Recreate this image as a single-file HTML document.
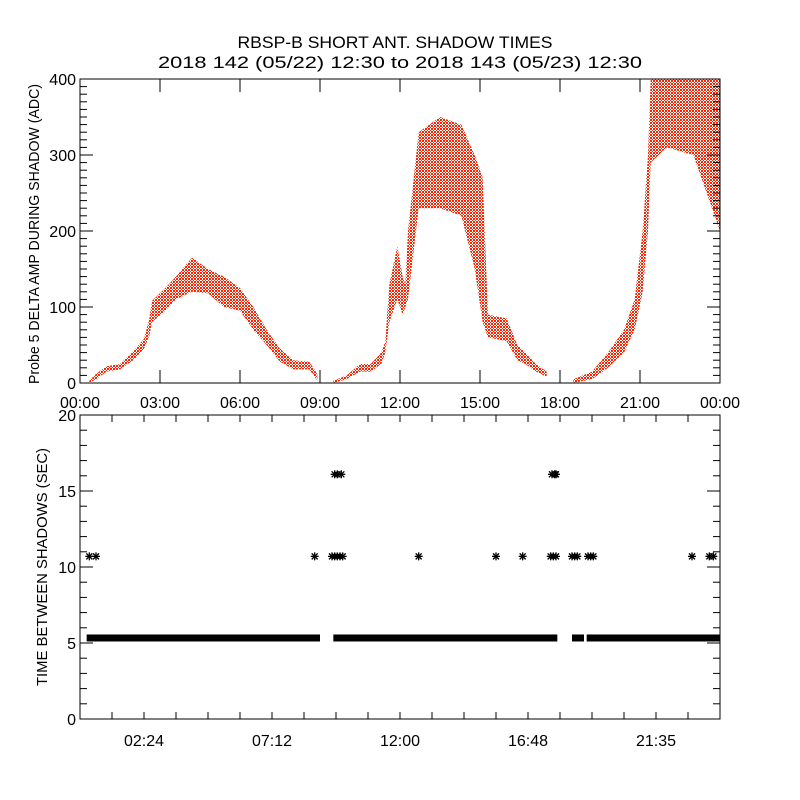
<!DOCTYPE html>
<html><head><meta charset="utf-8"><style>
body{margin:0;background:#fff}
svg{display:block}
text{font-family:"Liberation Sans",sans-serif;fill:#000}
</style></head><body>
<svg id="chart" width="800" height="800" viewBox="0 0 800 800" xmlns="http://www.w3.org/2000/svg">
<defs>
<pattern id="dots" width="3" height="3" patternUnits="userSpaceOnUse">
<rect x="0" y="0" width="1" height="1" fill="#ff2200"/>
<rect x="2" y="0" width="1" height="1" fill="#ff2200"/>
<rect x="1" y="1" width="1" height="1" fill="#ff2200"/>
<rect x="2" y="2" width="1" height="1" fill="#ff2200"/>
<rect x="0" y="2" width="1" height="1" fill="#ff2200"/>
</pattern>
</defs>
<text x="395" y="48" font-size="17" text-anchor="middle" textLength="315" lengthAdjust="spacingAndGlyphs">RBSP-B SHORT ANT. SHADOW TIMES</text>
<text x="400" y="68" font-size="17" text-anchor="middle" textLength="484" lengthAdjust="spacingAndGlyphs">2018 142 (05/22) 12:30 to 2018 143 (05/23) 12:30</text>
<g id="topPanel"></g>
<g id="botPanel"></g>
</svg>
<script>
// ---- Top panel data: scatter envelope segments (hours, low ADC, high ADC)
const seg1Hours = [0.35,0.6,1.0,1.5,2.0,2.4,2.6,2.7,3.2,3.6,4.2,4.8,5.4,6.0,6.5,7.0,7.5,8.0,8.6,8.9];
const seg1Low   = [0,5,15,18,30,45,62,80,95,110,120,118,100,95,70,50,28,18,18,3];
const seg1High  = [3,12,22,25,42,58,85,108,125,140,165,150,140,125,100,70,45,30,28,12];
const seg2Hours = [9.5,10.0,10.5,10.9,11.3,11.45,11.6,11.9,12.1,12.2,12.3,12.7,13.5,14.3,14.8,15.1,15.3,16.0,16.4,16.7,17.1,17.5];
const seg2Low   = [0,5,15,15,25,40,80,110,90,100,110,230,230,220,150,80,60,55,30,25,15,8];
const seg2High  = [3,10,25,25,40,55,130,180,140,130,200,330,350,340,300,270,90,85,50,40,25,15];
const seg3Hours = [18.5,19.2,19.8,20.4,20.8,21.1,21.3,21.4,22.0,23.0,24.0];
const seg3Low   = [0,5,20,40,70,120,200,290,310,300,200];
const seg3High  = [5,15,40,70,110,200,300,400,400,400,400];
const topYTicks = [0,100,200,300,400];
const topXTickLabels = ["00:00","03:00","06:00","09:00","12:00","15:00","18:00","21:00","00:00"];
// ---- Bottom panel data
const bandValue = 5.33;
const bandStarts = [0.25,9.5,18.45,19.0];
const bandEnds   = [9.0,17.9,18.9,24.0];
const star10Times = [0.35,0.6,8.8,9.45,9.55,9.65,9.75,9.85,12.7,15.6,16.6,17.65,17.75,17.85,18.45,18.55,18.65,19.05,19.15,19.25,22.95,23.6,23.75];
const star10Value = 10.7;
const star16Times = [9.55,9.65,9.8,17.7,17.8,17.85];
const star16Value = 16.1;
const botYTicks = [0,5,10,15,20];
const botXTickLabels = ["02:24","07:12","12:00","16:48","21:35"];

const NS="http://www.w3.org/2000/svg";
function mk(p,tag,attrs){const e=document.createElementNS(NS,tag);for(const k in attrs)e.setAttribute(k,attrs[k]);p.appendChild(e);return e;}
const L=80,R=720;
const xs=h=>L+(R-L)*h/24;
const tT=79,tB=383,yTop=v=>tB-(tB-tT)*v/400;
const bT=415,bB=719,yBot=v=>bB-(bB-bT)*v/20;

const topG=document.getElementById('topPanel');
[[seg1Hours,seg1Low,seg1High],[seg2Hours,seg2Low,seg2High],[seg3Hours,seg3Low,seg3High]].forEach((s,i)=>{
  let pts=s[0].map((h,j)=>xs(h)+','+yTop(s[2][j]));
  for(let j=s[0].length-1;j>=0;j--)pts.push(xs(s[0][j])+','+yTop(s[1][j]));
  const pg=mk(topG,'polygon',{points:pts.join(' '),fill:'url(#dots)'});
  
  
});
const tb=mk(topG,'rect',{x:L,y:tT,width:R-L,height:tB-tT,fill:'none',stroke:'#000','stroke-width':1});


for(let v=0;v<=400;v+=10){const y=yTop(v),len=v%100===0?13:7;
  mk(topG,'line',{x1:L,x2:L+len,y1:y,y2:y,stroke:'#000'});mk(topG,'line',{x1:R,x2:R-len,y1:y,y2:y,stroke:'#000'});}
topYTicks.forEach(v=>{const t=mk(topG,'text',{x:L-4,y:yTop(v)+6,'font-size':16,'text-anchor':'end'});t.textContent=v;
  
  });
topXTickLabels.forEach((s,i)=>{const x=xs(i*3);
  mk(topG,'line',{x1:x,x2:x,y1:tB,y2:tB-13,stroke:'#000'});mk(topG,'line',{x1:x,x2:x,y1:tT,y2:tT+13,stroke:'#000'});
  const t=mk(topG,'text',{x:x,y:tB+25,'font-size':16,'text-anchor':'middle'});t.textContent=s;
  
  });
const ty=mk(topG,'text',{x:0,y:0,'font-size':15,'text-anchor':'middle',textLength:300,lengthAdjust:'spacingAndGlyphs',transform:'translate(39,'+((tT+tB)/2+3)+') rotate(-90)'});
ty.textContent='Probe 5 DELTA AMP DURING SHADOW (ADC)';



const botG=document.getElementById('botPanel');
bandStarts.forEach((s,i)=>{const r=mk(botG,'rect',{x:xs(s),y:yBot(bandValue)-3.5,width:xs(bandEnds[i])-xs(s),height:7,fill:'#000'});
  
  });
function star(x,y){const g=mk(botG,'g',{stroke:'#000','stroke-width':1.3});
  
  
  mk(g,'line',{x1:x-4,x2:x+4,y1:y,y2:y});mk(g,'line',{x1:x,x2:x,y1:y-4,y2:y+4});
  mk(g,'line',{x1:x-3,x2:x+3,y1:y-3,y2:y+3});mk(g,'line',{x1:x-3,x2:x+3,y1:y+3,y2:y-3});}
star10Times.forEach(h=>star(xs(h),yBot(star10Value)));
star16Times.forEach(h=>star(xs(h),yBot(star16Value)));
const bb=mk(botG,'rect',{x:L,y:bT,width:R-L,height:bB-bT,fill:'none',stroke:'#000','stroke-width':1});


for(let v=0;v<=20;v+=1){const y=yBot(v),len=v%5===0?13:7;
  mk(botG,'line',{x1:L,x2:L+len,y1:y,y2:y,stroke:'#000'});mk(botG,'line',{x1:R,x2:R-len,y1:y,y2:y,stroke:'#000'});}
botYTicks.forEach(v=>{const t=mk(botG,'text',{x:L-4,y:yBot(v)+6,'font-size':16,'text-anchor':'end'});t.textContent=v;
  
  });
for(let i=0;i<=20;i++){const x=xs(i*1.2);
  mk(botG,'line',{x1:x,x2:x,y1:bB,y2:bB-7,stroke:'#000'});mk(botG,'line',{x1:x,x2:x,y1:bT,y2:bT+7,stroke:'#000'});}
botXTickLabels.forEach((s,i)=>{const x=xs(2.4+i*4.8);
  const t=mk(botG,'text',{x:x,y:bB+27,'font-size':16,'text-anchor':'middle'});t.textContent=s;
  
  });
const by=mk(botG,'text',{x:0,y:0,'font-size':15,'text-anchor':'middle',textLength:238,lengthAdjust:'spacingAndGlyphs',transform:'translate(47,'+((bT+bB)/2)+') rotate(-90)'});
by.textContent='TIME BETWEEN SHADOWS (SEC)';


</script>
</body></html>
